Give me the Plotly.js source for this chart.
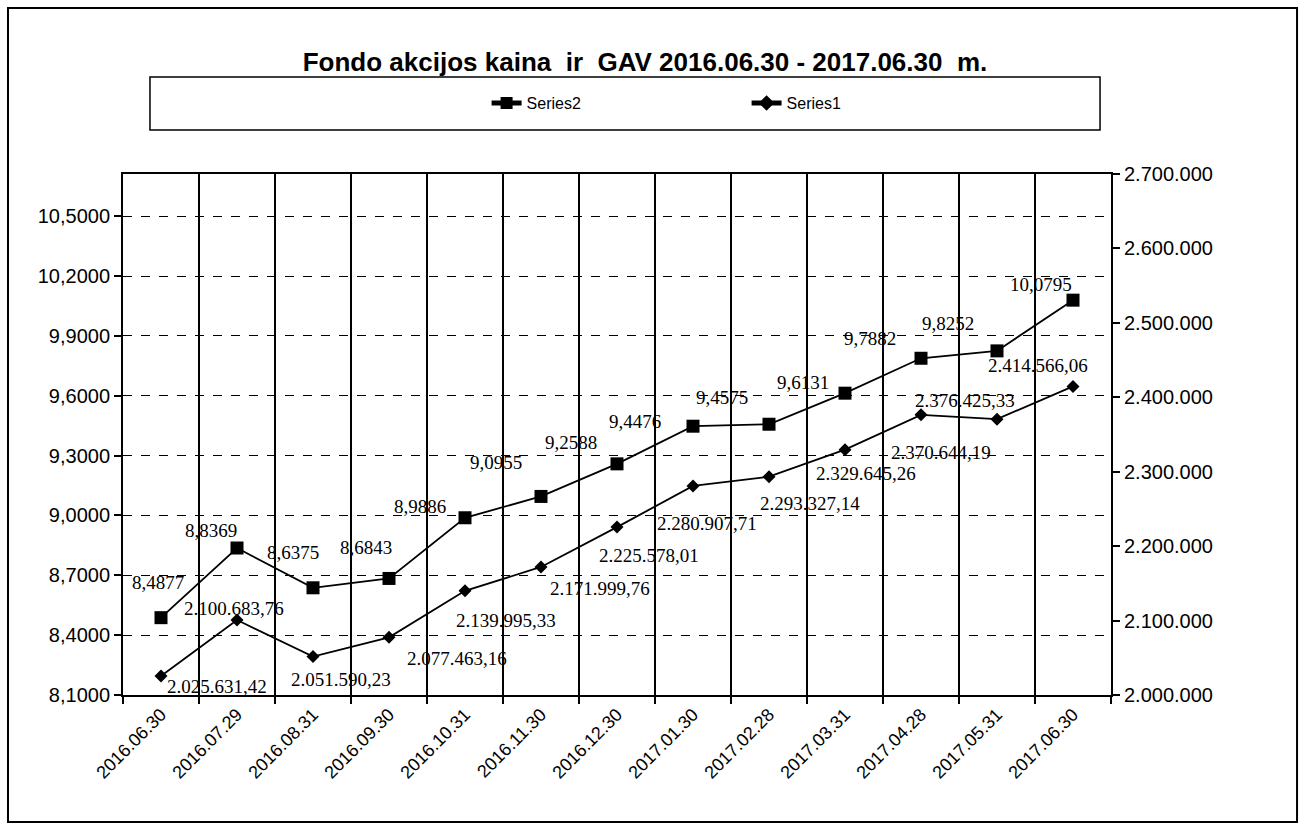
<!DOCTYPE html>
<html>
<head>
<meta charset="utf-8">
<script src="https://cdn.plot.ly/plotly-3.0.1.min.js"></script>
<style>
  html, body { margin: 0; padding: 0; background: #ffffff; }
  #chart { width: 1303px; height: 826px; }
</style>
</head>
<body>
<div id="chart"></div>
<script>
// ---- data ----
const dates = ["2016.06.30","2016.07.29","2016.08.31","2016.09.30","2016.10.31","2016.11.30","2016.12.30",
               "2017.01.30","2017.02.28","2017.03.31","2017.04.28","2017.05.31","2017.06.30"];
// Series2: fund share price (left axis)
const series2 = [8.4877, 8.8369, 8.6375, 8.6843, 8.9886, 9.0955, 9.2588,
                 9.4476, 9.4575, 9.6131, 9.7882, 9.8252, 10.0795];
// Series1: net asset value GAV (right axis)
const series1 = [2025631.42, 2100683.76, 2051590.23, 2077463.16, 2139995.33, 2171999.76, 2225578.01,
                 2280907.71, 2293327.14, 2329645.26, 2376425.33, 2370644.19, 2414566.06];
const leftTicks = [8.1, 8.4, 8.7, 9.0, 9.3, 9.6, 9.9, 10.2, 10.5];
const rightTicks = [2000000, 2100000, 2200000, 2300000, 2400000, 2500000, 2600000, 2700000];

// label pixel offsets (style, not data)
const s2dx = [-3, -26, -20, -23, -45, -45, -46, -58, -47, -42, -51, -49, -32];
const s2dy = [-35, -18, -35, -31, -11, -34, -21, -5, -27, -11, -20, -27, -16];
const s1dx = [56, -3, 28, 68, 41, 59, 32, 14, 41, 21, 44, -56, -35];
const s1dy = [11, -12, 23, 21, 30, 22, 28, 38, 27, 24, -14, 33, -21];

function fmtPrice(v) { return v.toFixed(4).replace('.', ','); }
function fmtGav(v) {
  const parts = v.toFixed(2).split('.');
  const intPart = parts[0].replace(/\B(?=(\d{3})+(?!\d))/g, '.');
  return intPart + ',' + parts[1];
}

const sans = "Liberation Sans, Arial, sans-serif";
const serif = "Liberation Serif, Times New Roman, serif";

const traces = [
  {
    name: "Series2", x: dates, y: series2, yaxis: "y", type: "scatter", mode: "lines+markers",
    line: {color: "#000000", width: 1.8},
    marker: {symbol: "square", size: 13, color: "#000000"}
  },
  {
    name: "Series1", x: dates, y: series1, yaxis: "y2", type: "scatter", mode: "lines+markers",
    line: {color: "#000000", width: 1.8},
    marker: {symbol: "diamond", size: 10, color: "#000000"}
  }
];

const annotations = [];
dates.forEach((d, i) => {
  annotations.push({
    x: d, y: series2[i], xref: "x", yref: "y", text: fmtPrice(series2[i]), showarrow: false,
    xshift: s2dx[i], yshift: -s2dy[i], font: {family: serif, size: 19, color: "#000"}
  });
  annotations.push({
    x: d, y: series1[i], xref: "x", yref: "y2", text: fmtGav(series1[i]), showarrow: false,
    xshift: s1dx[i], yshift: -s1dy[i], font: {family: serif, size: 19, color: "#000"}
  });
});

const layout = {
  width: 1303, height: 826,
  margin: {l: 123, r: 192, t: 174, b: 131, pad: 0},
  paper_bgcolor: "#ffffff", plot_bgcolor: "#ffffff",
  separators: ",.",
  showlegend: true,
  title: {
    text: "<b>Fondo akcijos kaina\u00a0 ir\u00a0 GAV 2016.06.30 - 2017.06.30\u00a0 m.</b>",
    font: {family: sans, size: 26, color: "#000"},
    xref: "container", x: 0.495, xanchor: "center",
    yref: "container", y: 1 - 62/826, yanchor: "middle"
  },
  legend: {
    orientation: "h", x: 0.368, xanchor: "left", y: 1.136, yanchor: "middle",
    font: {family: sans, size: 16, color: "#000"},
    entrywidth: 215, entrywidthmode: "pixels", itemsizing: "constant",
    bgcolor: "rgba(0,0,0,0)", borderwidth: 0
  },
  xaxis: {
    type: "category", categoryorder: "array", categoryarray: dates,
    range: [-0.5, 12.5], autorange: false,
    tickson: "boundaries", ticks: "outside", ticklen: 7, tickwidth: 2, tickcolor: "#000",
    showgrid: true, gridcolor: "#000", gridwidth: 1.5,
    showline: true, linecolor: "#000", linewidth: 2, mirror: true,
    tickangle: -45, tickfont: {family: sans, size: 18, color: "#000"},
    zeroline: false, fixedrange: true
  },
  yaxis: {
    range: [8.1, 10.712], autorange: false, tickmode: "array", tickvals: leftTicks, tickformat: ".4f",
    ticks: "outside", ticklen: 7, tickwidth: 2, tickcolor: "#000",
    showgrid: true, gridcolor: "#000", gridwidth: 1, griddash: "dash",
    showline: true, linecolor: "#000", linewidth: 2,
    tickfont: {family: sans, size: 20, color: "#000"}, zeroline: false
  },
  yaxis2: {
    overlaying: "y", side: "right",
    range: [2000000, 2700000], autorange: false, tickmode: "array", tickvals: rightTicks, tickformat: ",.0f",
    ticks: "outside", ticklen: 7, tickwidth: 2, tickcolor: "#000",
    showgrid: false, showline: true, linecolor: "#000", linewidth: 2,
    tickfont: {family: sans, size: 20, color: "#000"}, zeroline: false
  },
  shapes: [
    // legend frame
    {type: "rect", xref: "paper", yref: "paper", x0: 0.0273, x1: 0.9889, y0: 1.0845, y1: 1.1862,
     line: {color: "#000", width: 1.5}, fillcolor: "rgba(0,0,0,0)", layer: "below"},
    // outer chart frame
    {type: "rect", xref: "paper", yref: "paper", x0: -0.1164, x1: 1.1883, y0: -0.2438, y1: 1.3186,
     line: {color: "#000", width: 2}, fillcolor: "rgba(0,0,0,0)", layer: "below"}
  ],
  annotations: annotations
};

Plotly.newPlot("chart", traces, layout, {displayModeBar: false, staticPlot: true});
</script>
</body>
</html>
